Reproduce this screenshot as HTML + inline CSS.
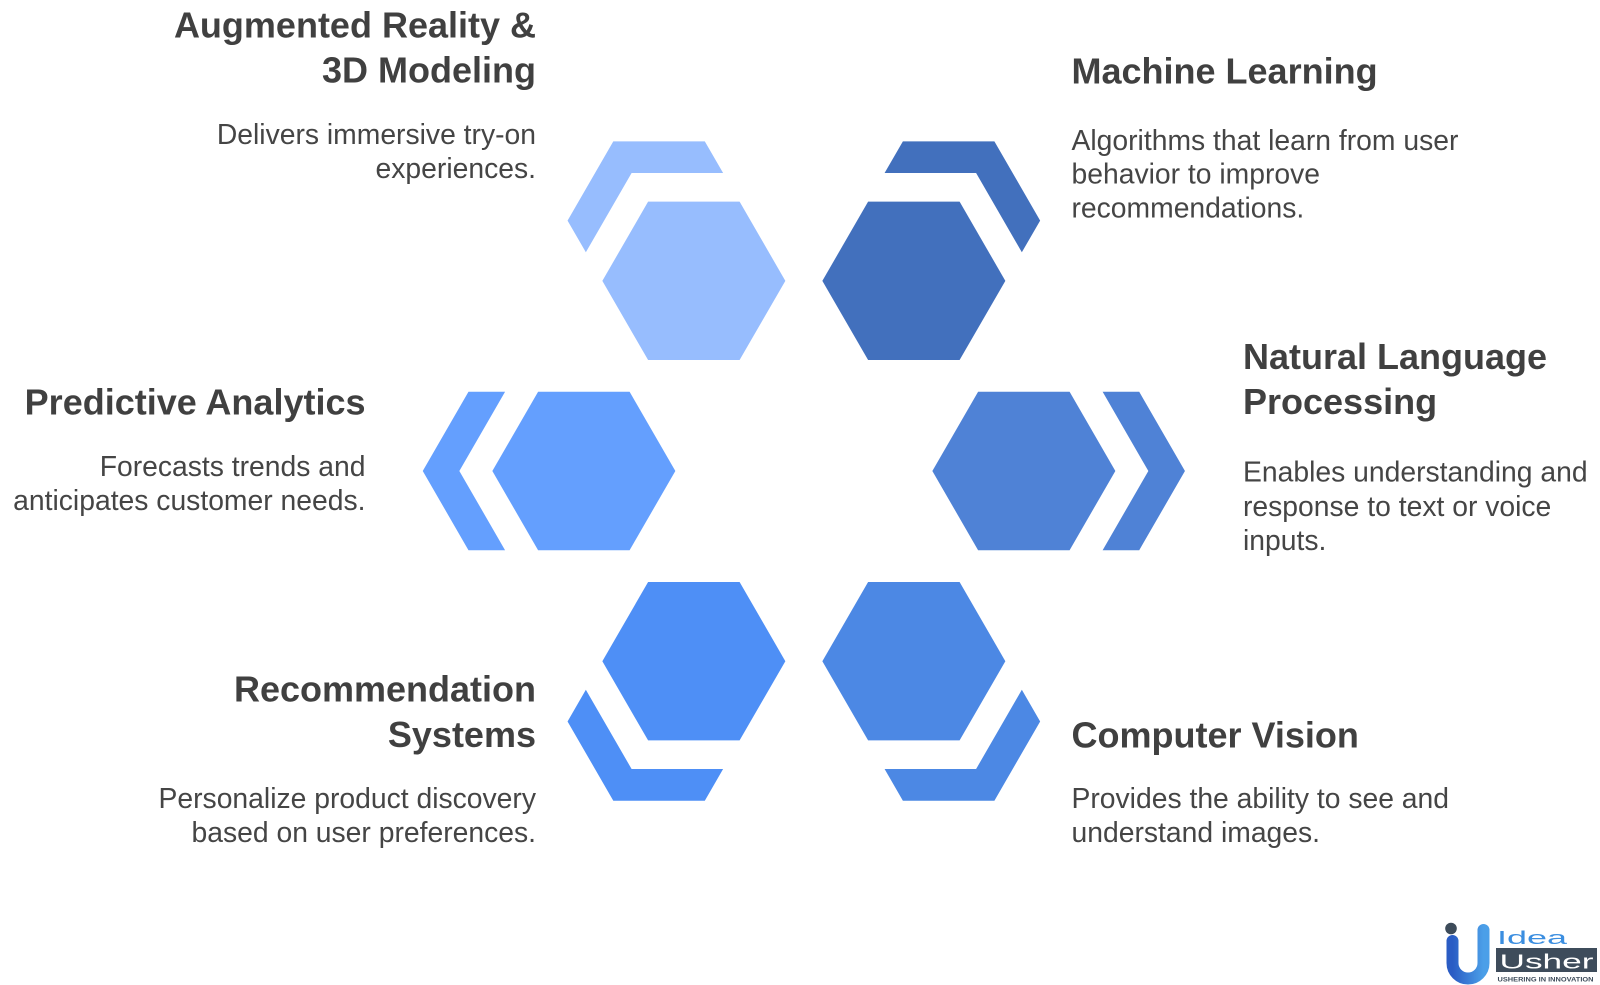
<!DOCTYPE html>
<html>
<head>
<meta charset="utf-8">
<style>
  html, body { margin: 0; padding: 0; background: #ffffff; }
  svg { display: block; }
  .t { font-family: "Liberation Sans", Arial, sans-serif; font-weight: bold; font-size: 36px; fill: #404040; }
  .d { font-family: "Liberation Sans", Arial, sans-serif; font-size: 28.3px; fill: #454545; }
</style>
</head>
<body>
<svg width="1600" height="985" viewBox="0 0 1600 985" xmlns="http://www.w3.org/2000/svg">
  <rect x="0" y="0" width="1600" height="985" fill="#ffffff"/>

  <!-- AR (top-left) -->
  <polygon fill="#97BDFE" points="602.35,280.85 648.1,201.65 739.6,201.65 785.35,280.85 739.6,360.05 648.1,360.05"/>
  <polygon fill="#97BDFE" points="613.3,141.35 704.81,141.35 723.11,173.05 631.6,173.05 585.85,252.27 567.55,220.58"/>

  <!-- ML (top-right) -->
  <polygon fill="#4270BD" points="822.35,280.85 868.1,201.65 959.6,201.65 1005.35,280.85 959.6,360.05 868.1,360.05"/>
  <polygon fill="#4270BD" points="994.4,141.35 902.89,141.35 884.59,173.05 976.1,173.05 1021.85,252.27 1040.15,220.58"/>

  <!-- PA (mid-left) -->
  <polygon fill="#649FFE" points="492.35,471 538.1,391.8 629.6,391.8 675.35,471 629.6,550.2 538.1,550.2"/>
  <polygon fill="#649FFE" points="468.48,391.8 505.08,391.8 459.35,471 505.08,550.2 468.48,550.2 422.75,471"/>

  <!-- NLP (mid-right) -->
  <polygon fill="#4F82D6" points="932.35,471 978.1,391.8 1069.6,391.8 1115.35,471 1069.6,550.2 978.1,550.2"/>
  <polygon fill="#4F82D6" points="1139.22,391.8 1102.62,391.8 1148.35,471 1102.62,550.2 1139.22,550.2 1184.95,471"/>

  <!-- RS (bottom-left) -->
  <polygon fill="#4E8FF6" points="602.35,661.2 648.1,582 739.6,582 785.35,661.2 739.6,740.4 648.1,740.4"/>
  <polygon fill="#4E8FF6" points="613.3,800.7 704.81,800.7 723.11,769 631.6,769 585.85,689.78 567.55,721.47"/>

  <!-- CV (bottom-right) -->
  <polygon fill="#4C88E4" points="822.35,661.2 868.1,582 959.6,582 1005.35,661.2 959.6,740.4 868.1,740.4"/>
  <polygon fill="#4C88E4" points="994.4,800.7 902.89,800.7 884.59,769 976.1,769 1021.85,689.78 1040.15,721.47"/>

  <!-- Text: Augmented Reality -->
  <text class="t" x="536" y="37.5" text-anchor="end">Augmented Reality &amp;</text>
  <text class="t" x="536" y="82.5" text-anchor="end">3D Modeling</text>
  <text class="d" x="536" y="144" text-anchor="end">Delivers immersive try-on</text>
  <text class="d" x="536" y="178" text-anchor="end">experiences.</text>

  <!-- Machine Learning -->
  <text class="t" x="1071.5" y="83.3">Machine Learning</text>
  <text class="d" x="1071.5" y="150">Algorithms that learn from user</text>
  <text class="d" x="1071.5" y="183.7">behavior to improve</text>
  <text class="d" x="1071.5" y="217.5">recommendations.</text>

  <!-- Predictive Analytics -->
  <text class="t" x="365.5" y="414.7" text-anchor="end">Predictive Analytics</text>
  <text class="d" x="365.5" y="476" text-anchor="end">Forecasts trends and</text>
  <text class="d" x="365.5" y="510" text-anchor="end">anticipates customer needs.</text>

  <!-- NLP -->
  <text class="t" x="1243" y="369">Natural Language</text>
  <text class="t" x="1243" y="414">Processing</text>
  <text class="d" x="1243" y="481.4">Enables understanding and</text>
  <text class="d" x="1243" y="516">response to text or voice</text>
  <text class="d" x="1243" y="549.8">inputs.</text>

  <!-- Recommendation Systems -->
  <text class="t" x="536" y="701.7" text-anchor="end">Recommendation</text>
  <text class="t" x="536" y="747" text-anchor="end">Systems</text>
  <text class="d" x="536" y="808" text-anchor="end">Personalize product discovery</text>
  <text class="d" x="536" y="842" text-anchor="end">based on user preferences.</text>

  <!-- Computer Vision -->
  <text class="t" x="1071.5" y="747.3">Computer Vision</text>
  <text class="d" x="1071.5" y="808">Provides the ability to see and</text>
  <text class="d" x="1071.5" y="842">understand images.</text>

  <!-- Logo -->
  <defs>
    <linearGradient id="ug" x1="0" y1="0" x2="1" y2="0">
      <stop offset="0" stop-color="#2a5cc4"/>
      <stop offset="1" stop-color="#4b9fe8"/>
    </linearGradient>
  </defs>
  <circle cx="1451" cy="928.5" r="5.8" fill="#3d4b5a"/>
  <path d="M1452.5,941 L1452.5,963 A15.5,15.5 0 0 0 1483.5,963 L1483.5,930" fill="none" stroke="url(#ug)" stroke-width="12" stroke-linecap="round"/>
  <text x="1497" y="944" font-family="Liberation Sans, Arial, sans-serif" font-size="18" fill="#3b8ee0" textLength="70" lengthAdjust="spacingAndGlyphs">Idea</text>
  <rect x="1496" y="948" width="101" height="24" fill="#3e4c5b"/>
  <text x="1499.5" y="968.5" font-family="Liberation Sans, Arial, sans-serif" font-size="20" fill="#ffffff" textLength="94" lengthAdjust="spacingAndGlyphs">Usher</text>
  <text x="1497.5" y="981.5" font-family="Liberation Sans, Arial, sans-serif" font-size="6.5" font-weight="bold" fill="#3e4c5b" textLength="96" lengthAdjust="spacingAndGlyphs">USHERING IN INNOVATION</text>
</svg>
</body>
</html>
